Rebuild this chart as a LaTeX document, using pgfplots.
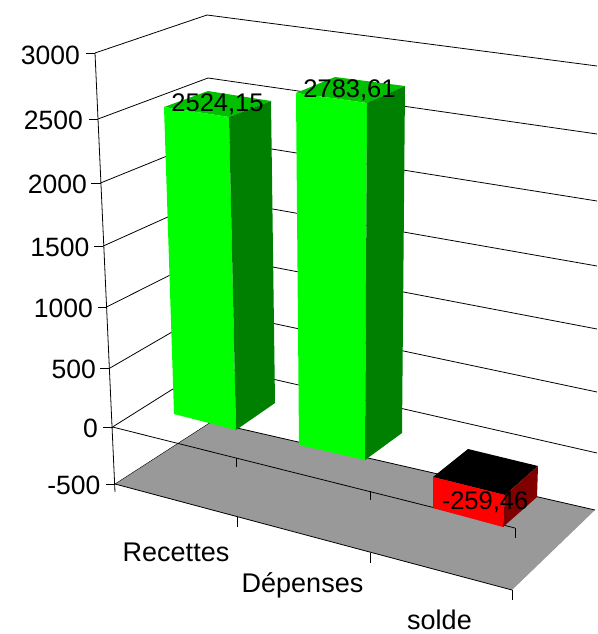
\documentclass[border=0pt]{standalone}
\usepackage{fontspec}
\setmainfont{Liberation Sans}
\usepackage{pgfplots}
\pgfplotsset{compat=1.18}
\definecolor{barfront}{RGB}{0,255,0}
\definecolor{bartop}{RGB}{0,192,0}
\definecolor{barside}{RGB}{0,128,0}
\definecolor{negfront}{RGB}{255,0,0}
\definecolor{negside}{RGB}{128,0,0}
\definecolor{floorc}{RGB}{153,153,153}
\newcommand{\ax}{\fontsize{25.5}{26}\selectfont}
\newcommand{\tk}{\fontsize{26.5}{27}\selectfont}
\newcommand{\ct}{\fontsize{27}{28}\selectfont}
\newcommand{\face}[2]{\addplot[fill=#1,draw=none,forget plot] coordinates {#2} -- cycle;}
\newcommand{\seg}[1]{\addplot[black,line width=0.8pt,forget plot] coordinates {#1};}
\begin{document}
\begin{tikzpicture}
\begin{axis}[
  width=597pt,height=634pt,scale only axis,
  xmin=0,xmax=597,ymin=0,ymax=634,y dir=reverse,
  hide axis,clip=true,
]
\face{white}{(0,0)(597,0)(597,634)(0,634)}
% left wall and back wall grid lines
\seg{(95,53)(207,15)(597,66)}
\seg{(98,119)(208,78)(597,134)}
\seg{(100.5,183)(209,139)(597,201)}
\seg{(103.3,246)(210,198)(597,266)}
\seg{(106.5,307)(210,255)(597,329)}
\seg{(110,368)(210,310)(597,392)}
\seg{(112.5,427)(211,365)(597,453)}
% floor
\face{floorc}{(115,484)(211,422)(595,510)(512,590)}
\seg{(211,422)(595,510)}
\addplot[black,line width=0.4pt,forget plot] coordinates {(115,484)(211,422)};
\seg{(115,484)(512,590)}
% zero plane front edge
\seg{(112.5,427)(515,528)}
% y axis and ticks
\seg{(95,53)(115,492)}
\seg{(86,53)(95,53)}
\seg{(89,119)(98,119)}
\seg{(91,183)(100.5,183)}
\seg{(94,246)(103.3,246)}
\seg{(98,307)(106.5,307)}
\seg{(100,368)(110,368)}
\seg{(103,427)(112.5,427)}
\seg{(106,484)(115,484)}
% x ticks
\seg{(236,458)(236,467)}
\seg{(370,491)(370,500)}
\seg{(515,528)(515,538)}
\seg{(237,517)(237,527)}
\seg{(370,553)(370,563)}
\seg{(512,590)(512,600)}
% bar Recettes = 2524,15
\face{bartop}{(164,107)(208,91)(271,101)(229,117)}
\face{barfront}{(164,107)(229,117)(236,430)(174,414)}
\face{barside}{(229,117)(271,101)(275,403)(236,430)}
% bar Depenses = 2783,61
\face{bartop}{(296,93)(335,77)(405,86)(367,103)}
\face{barfront}{(296,93)(367,103)(365,460)(299,445)}
\face{barside}{(367,103)(405,86)(402,433)(365,460)}
% bar solde = -259,46
\face{black}{(433,477)(468,449)(538,466)(505,495)}
\face{negfront}{(433,477)(505,495)(503,527)(433,508)}
\face{negside}{(505,495)(538,466)(537,497)(503,527)}
% value labels
\node[inner sep=0pt] at (axis cs:217.5,104.5) {\ax 2524,15};
\node[inner sep=0pt] at (axis cs:349.5,90.5) {\ax 2783,61};
\node[inner sep=0pt] at (axis cs:485,502) {\ax -259,46};
% y tick labels
\node[inner sep=0pt,anchor=east] at (axis cs:80,55) {\tk 3000};
\node[inner sep=0pt,anchor=east] at (axis cs:83,120) {\tk 2500};
\node[inner sep=0pt,anchor=east] at (axis cs:87,184) {\tk 2000};
\node[inner sep=0pt,anchor=east] at (axis cs:89.5,247) {\tk 1500};
\node[inner sep=0pt,anchor=east] at (axis cs:93,308) {\tk 1000};
\node[inner sep=0pt,anchor=east] at (axis cs:96,369) {\tk 500};
\node[inner sep=0pt,anchor=east] at (axis cs:98,428) {\tk 0};
\node[inner sep=0pt,anchor=east] at (axis cs:100.5,485) {\tk -500};
% category labels
\node[inner sep=0pt] at (axis cs:176,552) {\ct Recettes};
\node[inner sep=0pt] at (axis cs:302.5,585) {\ct Dépenses};
\node[inner sep=0pt] at (axis cs:439.5,619.5) {\ct solde};
\end{axis}
\end{tikzpicture}
\end{document}
